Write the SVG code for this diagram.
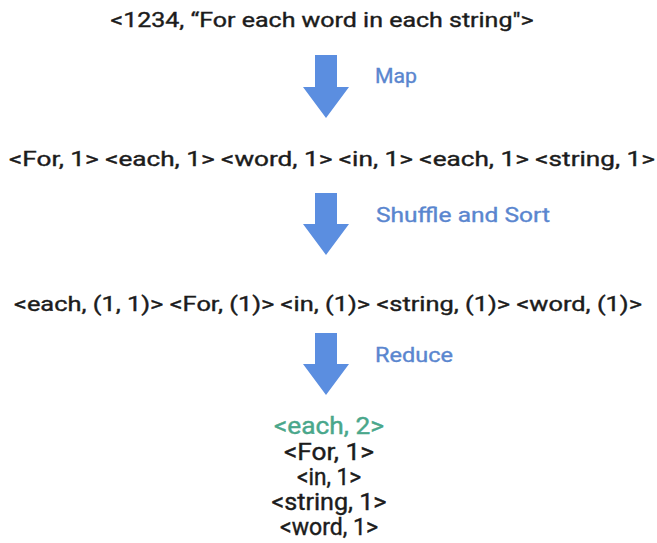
<svg xmlns="http://www.w3.org/2000/svg" width="657" height="543" viewBox="0 0 657 543">
<style>
.t{font-family:Roboto,"Liberation Sans",Arial,sans-serif;font-size:21px;font-weight:400;fill:#1c1c1c;stroke:#1c1c1c;stroke-width:0.4;text-anchor:middle}
.r{font-size:23px}
.lbl{font-family:Roboto,"Liberation Sans",Arial,sans-serif;font-size:20px;font-weight:400;fill:#5a86cf;stroke:#5a86cf;stroke-width:0.35}
.arr{fill:#5b8ee0}
.g{fill:#4aa78b;stroke:#4aa78b}
</style>
<rect width="657" height="543" fill="#ffffff"/>
<g id="input"><text class="t" x="322" y="27" textLength="423" lengthAdjust="spacingAndGlyphs">&lt;1234, “For each word in each string"&gt;</text></g>
<g id="mapped"><text class="t" x="332" y="166" textLength="646" lengthAdjust="spacingAndGlyphs">&lt;For, 1&gt; &lt;each, 1&gt; &lt;word, 1&gt; &lt;in, 1&gt; &lt;each, 1&gt; &lt;string, 1&gt;</text></g>
<g id="shuffled"><text class="t" x="328" y="311" textLength="628" lengthAdjust="spacingAndGlyphs">&lt;each, (1, 1)&gt; &lt;For, (1)&gt; &lt;in, (1)&gt; &lt;string, (1)&gt; &lt;word, (1)&gt;</text></g>
<g id="reduced">
<text class="t r g" x="329" y="434" textLength="110" lengthAdjust="spacingAndGlyphs">&lt;each, 2&gt;</text>
<text class="t r" x="329" y="460" textLength="90" lengthAdjust="spacingAndGlyphs">&lt;For, 1&gt;</text>
<text class="t r" x="329" y="485" textLength="64" lengthAdjust="spacingAndGlyphs">&lt;in, 1&gt;</text>
<text class="t r" x="329" y="510" textLength="115" lengthAdjust="spacingAndGlyphs">&lt;string, 1&gt;</text>
<text class="t r" x="329" y="535" textLength="98" lengthAdjust="spacingAndGlyphs">&lt;word, 1&gt;</text>
</g>
<g id="connectors">
<polygon class="arr" points="315,55 337,55 337,87 349,87 326,118 303,87 315,87"/>
<polygon class="arr" points="315,193 337,193 337,224 349,224 326,255 303,224 315,224"/>
<polygon class="arr" points="315,333 337,333 337,364 349,364 326,395 303,364 315,364"/>
<text class="lbl" x="375" y="83" textLength="42" lengthAdjust="spacingAndGlyphs">Map</text>
<text class="lbl" x="376" y="222" textLength="174" lengthAdjust="spacingAndGlyphs">Shuffle and Sort</text>
<text class="lbl" x="375" y="362" textLength="78" lengthAdjust="spacingAndGlyphs">Reduce</text>
</g>
</svg>
